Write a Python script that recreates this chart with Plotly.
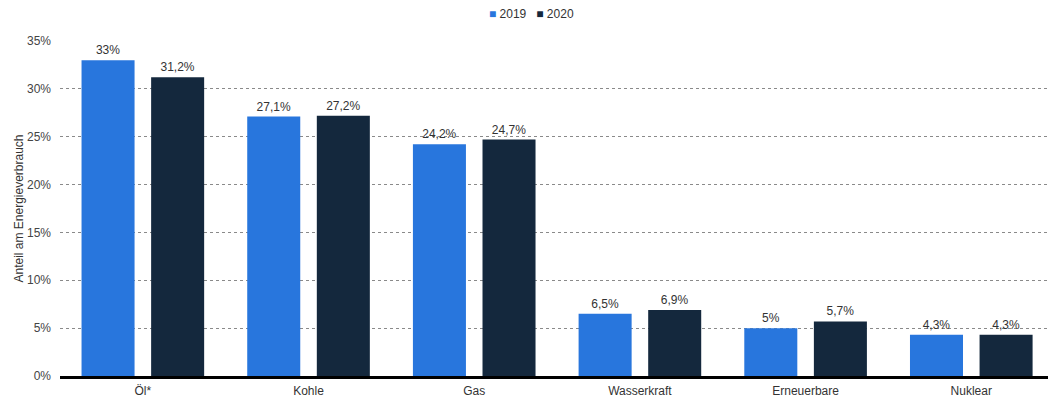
import plotly.graph_objects as go

categories = ["Öl*", "Kohle", "Gas", "Wasserkraft", "Erneuerbare", "Nuklear"]
values_2019 = [33, 27.1, 24.2, 6.5, 5, 4.3]
values_2020 = [31.2, 27.2, 24.7, 6.9, 5.7, 4.3]
y_ticks = [0, 5, 10, 15, 20, 25, 30, 35]
y_tick_labels = [f"{v}%" for v in y_ticks]
series_names = ["2019", "2020"]
series_colors = ["#2876dd", "#14283d"]

def fmt(v):
    return f"{v:g}".replace(".", ",") + "%"

fig = go.Figure()
for name, vals, col, off in zip(series_names, [values_2019, values_2020], series_colors, [-0.37, 0.05]):
    fig.add_trace(go.Bar(
        name=name, x=categories, y=vals,
        text=[fmt(v) for v in vals], textposition="outside",
        textfont=dict(size=12, color="#333333"),
        marker=dict(color=col, line=dict(width=0)),
        width=0.32, offset=off, cliponaxis=False, showlegend=False,
    ))

# compact legend as text
legend_text = "&nbsp;&nbsp;&nbsp;".join(
    f"<span style='color:{c}'>■</span> {n}" for n, c in zip(series_names, series_colors)
)
fig.add_annotation(
    text=legend_text, xref="paper", yref="paper",
    x=(531 - 60) / 988, y=1 + (41 - 14) / 335, xanchor="center", yanchor="middle",
    showarrow=False, font=dict(size=12, color="#333333"),
)

fig.update_layout(
    width=1048, height=400,
    margin=dict(l=60, r=0, t=41, b=24, autoexpand=False),
    plot_bgcolor="white", paper_bgcolor="white",
    font=dict(family="Arial, Liberation Sans, sans-serif", size=12, color="#333333"),
    separators=",.",
    barmode="group",
    xaxis=dict(
        range=[-0.5, 5.463], showgrid=False, ticks="", showline=True,
        linecolor="black", linewidth=3, tickfont=dict(size=12, color="#333333"),
        ticklabelstandoff=2,
    ),
    yaxis=dict(
        range=[0, 35], tickmode="array", tickvals=y_ticks, ticktext=y_tick_labels,
        showgrid=True, gridcolor="#8a8a8a", griddash="dot", gridwidth=1,
        zeroline=False, showline=False, ticks="",
        tickfont=dict(size=12, color="#444444"), ticklabelstandoff=8,
        title=dict(text="Anteil am Energieverbrauch", font=dict(size=12, color="#333333"), standoff=0),
    ),
)

fig.write_html("out.html")
